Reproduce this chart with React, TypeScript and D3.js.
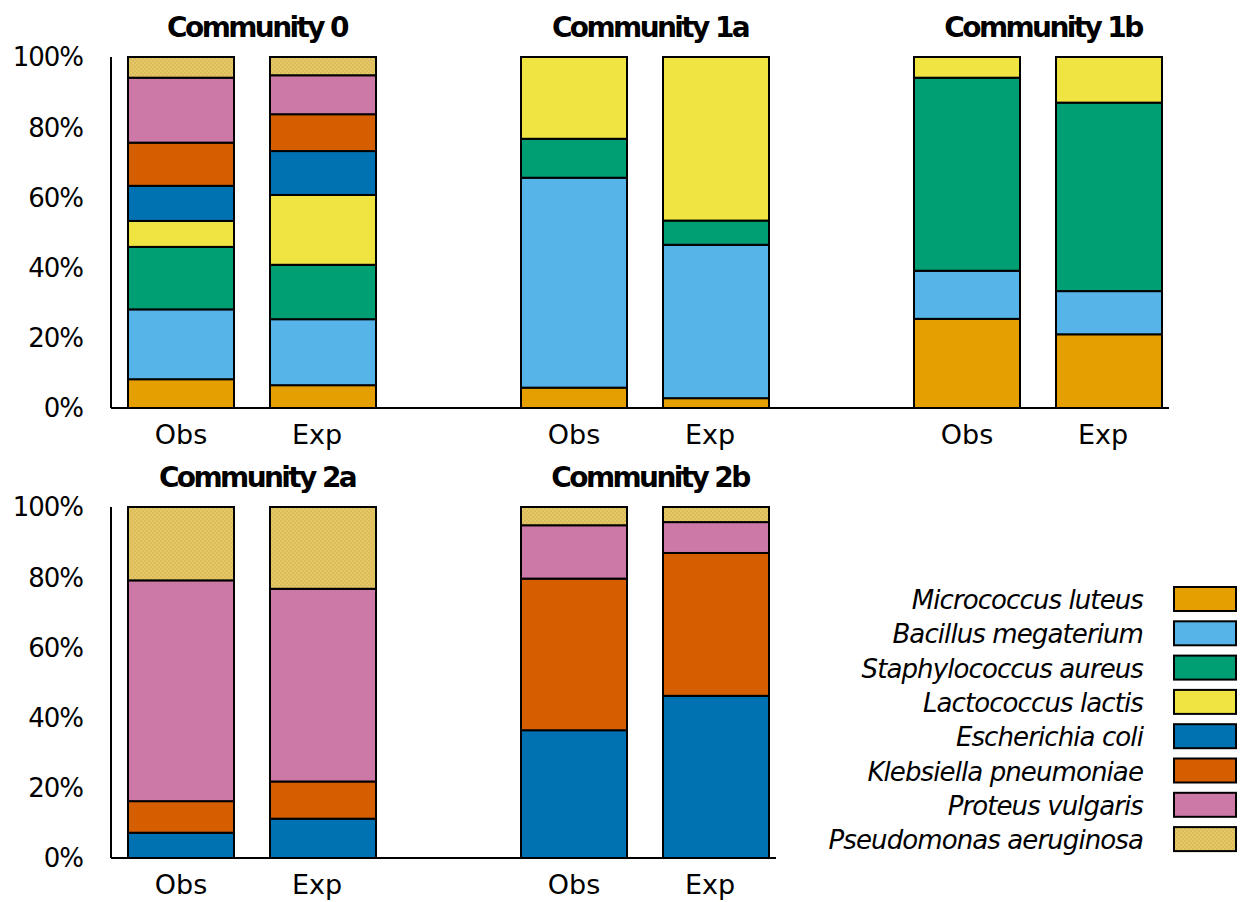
import * as d3 from 'd3';
import React from 'react';

const species = [
  'Micrococcus luteus',
  'Bacillus megaterium',
  'Staphylococcus aureus',
  'Lactococcus lactis',
  'Escherichia coli',
  'Klebsiella pneumoniae',
  'Proteus vulgaris',
  'Pseudomonas aeruginosa',
];

const speciesColors = ['#E69F00', '#56B4E9', '#009E73', '#F0E442', '#0072B2', '#D55E00', '#CC79A7', 'url(#pseudo)'];

const conditions = ['Obs', 'Exp'];

// percentages per species, in the order of `species`
const comm0Obs = [8.2, 19.9, 17.8, 7.4, 10.0, 12.3, 18.5, 5.9];
const comm0Exp = [6.5, 18.8, 15.5, 19.9, 12.5, 10.5, 11.1, 5.2];
const comm1aObs = [5.8, 59.8, 11.1, 23.3, 0, 0, 0, 0];
const comm1aExp = [2.8, 43.7, 6.9, 46.6, 0, 0, 0, 0];
const comm1bObs = [25.4, 13.7, 55.0, 5.9, 0, 0, 0, 0];
const comm1bExp = [21.0, 12.3, 53.7, 13.0, 0, 0, 0, 0];
const comm2aObs = [0, 0, 0, 0, 7.2, 9.0, 62.9, 20.9];
const comm2aExp = [0, 0, 0, 0, 11.2, 10.6, 54.9, 23.3];
const comm2bObs = [0, 0, 0, 0, 36.4, 43.2, 15.2, 5.2];
const comm2bExp = [0, 0, 0, 0, 46.2, 40.7, 8.8, 4.3];

const communities = [
  { name: 'Community 0', row: 0, col: 0, obs: comm0Obs, exp: comm0Exp },
  { name: 'Community 1a', row: 0, col: 1, obs: comm1aObs, exp: comm1aExp },
  { name: 'Community 1b', row: 0, col: 2, obs: comm1bObs, exp: comm1bExp },
  { name: 'Community 2a', row: 1, col: 0, obs: comm2aObs, exp: comm2aExp },
  { name: 'Community 2b', row: 1, col: 1, obs: comm2bObs, exp: comm2bExp },
];

const yTicks = [0, 20, 40, 60, 80, 100];

const W = 1241;
const H = 902;
const axisX = 111;
const colStep = 393;
const rowTops = [57, 507];
const plotH = 351;
const font = '"DejaVu Sans", sans-serif';

function Panel({ c }) {
  const top = rowTops[c.row];
  const y = d3.scaleLinear().domain([0, 100]).range([top + plotH, top]);
  const colX = axisX + c.col * colStep + 17;
  const x = d3
    .scaleBand()
    .domain(conditions)
    .range([colX, colX + 248])
    .paddingInner(36 / 142);

  const table = conditions.map((cond) => {
    const vals = cond === 'Obs' ? c.obs : c.exp;
    const row = { cond };
    species.forEach((s, i) => (row[s] = vals[i]));
    return row;
  });
  const stacked = d3.stack().keys(species)(table);

  return (
    <g>
      {stacked.map((layer, i) =>
        layer
          .filter((d) => d[1] - d[0] > 0)
          .map((d) => (
            <rect
              key={layer.key + d.data.cond}
              x={x(d.data.cond)}
              y={y(d[1])}
              width={x.bandwidth()}
              height={y(d[0]) - y(d[1])}
              fill={speciesColors[i]}
              stroke="#000"
              strokeWidth={2}
            />
          ))
      )}
      {conditions.map((cond) => (
        <text
          key={cond}
          x={x(cond) + x.bandwidth() / 2 + (cond === 'Exp' ? -6 : 0)}
          y={top + plotH + 36}
          textAnchor="middle"
          fontFamily={font}
          fontSize={27}
        >
          {cond}
        </text>
      ))}
      <text
        x={colX + 124 + 5}
        y={top - 20}
        textAnchor="middle"
        fontFamily={font}
        fontWeight="bold"
        fontSize={28}
        letterSpacing={-2.6}
      >
        {c.name}
      </text>
    </g>
  );
}

export default function App() {
  const rows = [0, 1];
  return (
    <svg width={W} height={H} style={{ display: 'block', position: 'absolute', left: 0, top: 0, background: '#fff' }}>
      <defs>
        <pattern id="pseudo" width={4} height={4} patternUnits="userSpaceOnUse">
          <rect width={4} height={4} fill="#E6C766" />
          <circle cx={1} cy={1} r={0.7} fill="#C9AA4C" />
          <circle cx={3} cy={3} r={0.7} fill="#C9AA4C" />
        </pattern>
      </defs>
      <rect width={W} height={H} fill="#fff" />
      {rows.map((r) => {
        const top = rowTops[r];
        const y = d3.scaleLinear().domain([0, 100]).range([top + plotH, top]);
        const nCols = d3.max(communities.filter((c) => c.row === r), (c) => c.col) + 1;
        const right = axisX + (nCols - 1) * colStep + 17 + 248 + 7;
        return (
          <g key={r}>
            <line x1={axisX} x2={axisX} y1={top} y2={top + plotH} stroke="#000" strokeWidth={2} />
            <line x1={axisX} x2={right} y1={top + plotH} y2={top + plotH} stroke="#000" strokeWidth={2} />
            {yTicks.map((t) => (
              <text
                key={t}
                x={83}
                y={y(t)}
                dy="0.36em"
                textAnchor="end"
                fontFamily={font}
                fontSize={26}
                letterSpacing={-1}
              >
                {t + '%'}
              </text>
            ))}
          </g>
        );
      })}
      {communities.map((c) => (
        <Panel key={c.name} c={c} />
      ))}
      <g>
        {species.map((s, i) => {
          const yTop = 587 + i * 34.3;
          return (
            <g key={s}>
              <text
                x={1143}
                y={yTop + 22}
                textAnchor="end"
                fontFamily={font}
                fontStyle="italic"
                fontSize={26}
                letterSpacing={-0.9}
              >
                {s}
              </text>
              <rect x={1174} y={yTop} width={62} height={24} fill={speciesColors[i]} stroke="#000" strokeWidth={2} />
            </g>
          );
        })}
      </g>
    </svg>
  );
}
